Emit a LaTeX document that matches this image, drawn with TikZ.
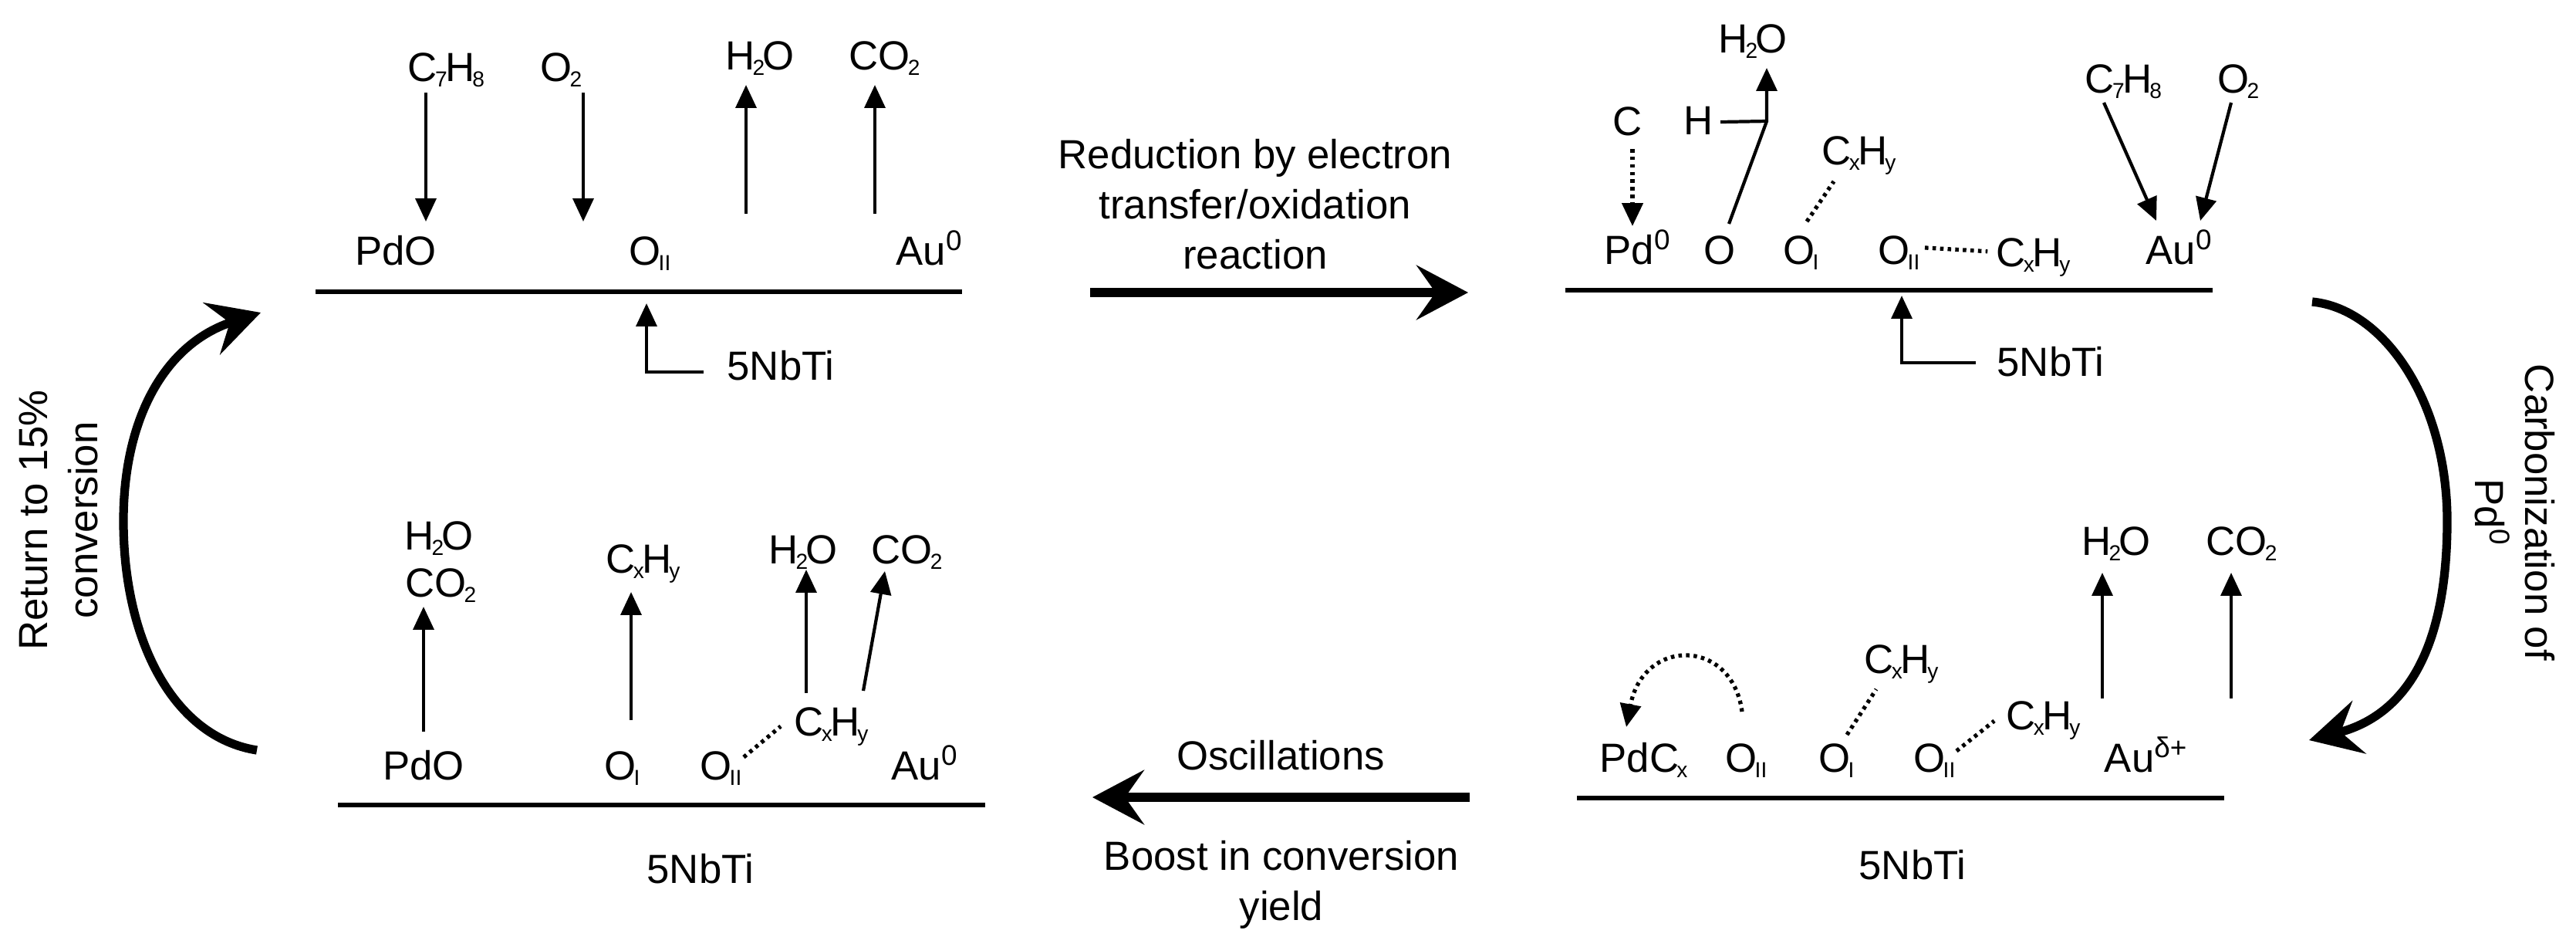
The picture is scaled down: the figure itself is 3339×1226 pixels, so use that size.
\documentclass[tikz,border=0pt]{standalone}
\usepackage{fontspec}
\usepackage{xcolor}
\usepackage{tikz}
\usetikzlibrary{arrows.meta}
\setmainfont{Liberation Sans}
\newcommand{\chemlo}[1]{\kern-0.8pt\raisebox{-2.2pt}{\fontsize{8}{8}\selectfont #1}\kern-0.8pt}
\tikzset{
chem/.style={anchor=base,inner sep=0pt,font=\fontsize{15}{18.5}\selectfont},
note/.style={inner sep=0pt,align=center,font=\fontsize{15}{18.5}\selectfont},
surf/.style={line width=1.6pt},
rxn/.style={line width=1.2pt,-{Triangle[length=8.5pt,width=7.6pt]}},
bond/.style={line width=1.2pt},
dotbond/.style={line width=1.5pt,dash pattern=on 1.3pt off 1.5pt},
dotrxn/.style={dotbond,-{Triangle[length=8.5pt,width=7.6pt]}},
bigrxn/.style={line width=3.2pt,-{Stealth[length=19pt,width=20pt,inset=7pt]}}
}
\begin{document}
\begin{tikzpicture}[x=0.01cm,y=-0.01cm]
\useasboundingbox (0,0) rectangle (3339,1226);
% top left
\coordinate (sa1) at (409,378); \coordinate (sa2) at (1247,378);
\draw[surf] (sa1) -- (sa2);
\node[chem] (c7h8a) at (577,105) {C\chemlo{7}H\chemlo{8}};
\node[chem] (o2a) at (726,105) {O\chemlo{2}};
\node[chem] (h2oa) at (985,90) {H\chemlo{2}O};
\node[chem] (co2a) at (1145,90) {CO\chemlo{2}};
\node[chem] (pdoa) at (513,343) {PdO};
\node[chem] (oiia) at (841,343) {O\chemlo{II}};
\node[chem] (aua) at (1205,343) {Au\textsuperscript{0}};
\node[chem] (nbtia) at (1012,492) {5NbTi};
\coordinate (a1) at (552,120); \coordinate (a2) at (552,287);
\coordinate (a3) at (756,120); \coordinate (a4) at (756,287);
\coordinate (a5) at (967,277); \coordinate (a6) at (967,110);
\coordinate (a7) at (1134,277); \coordinate (a8) at (1134,110);
\coordinate (a9) at (912,482); \coordinate (a10) at (838,482); \coordinate (a11) at (838,393);
\draw[rxn] (a1) -- (a2);
\draw[rxn] (a3) -- (a4);
\draw[rxn] (a5) -- (a6);
\draw[rxn] (a7) -- (a8);
\draw[rxn] (a9) -- (a10) -- (a11);
% top right
\coordinate (sb1) at (2029,376); \coordinate (sb2) at (2868,376);
\draw[surf] (sb1) -- (sb2);
\node[chem] (h2ob) at (2272,68) {H\chemlo{2}O};
\node[chem] (hb) at (2202,174) {H};
\node[chem] (cb) at (2110,175) {C};
\node[chem] (cxhyb) at (2408,213) {C\chemlo{x}H\chemlo{y}};
\node[chem] (c7h8b) at (2751,120) {C\chemlo{7}H\chemlo{8}};
\node[chem] (o2b) at (2900,120) {O\chemlo{2}};
\node[chem] (pdb) at (2123,342) {Pd\textsuperscript{0}};
\node[chem] (ob) at (2229,342) {O};
\node[chem] (oib) at (2333,342) {O\chemlo{I}};
\node[chem] (oiib) at (2460,342) {O\chemlo{II}};
\node[chem] (cxhyc) at (2634,345) {C\chemlo{x}H\chemlo{y}};
\node[chem] (aub) at (2825,342) {Au\textsuperscript{0}};
\node[chem] (nbtib) at (2658,487) {5NbTi};
\coordinate (b1) at (2241,290); \coordinate (b2) at (2290,157); \coordinate (b3) at (2290,88);
\coordinate (b4) at (2230,158);
\coordinate (b5) at (2116,193); \coordinate (b6) at (2116,293);
\coordinate (b7) at (2342,287); \coordinate (b8) at (2377,235);
\coordinate (b9) at (2727,133); \coordinate (b10) at (2795,286);
\coordinate (b11) at (2892,133); \coordinate (b12) at (2852,286);
\coordinate (b13) at (2561,470); \coordinate (b14) at (2465,470); \coordinate (b15) at (2465,383);
\draw[rxn] (b1) -- (b2) -- (b3);
\draw[bond] (b4) -- (b2);
\draw[dotrxn] (b5) -- (b6);
\draw[dotbond] (b7) -- (b8);
\draw[dotbond,shorten <=2.5pt,shorten >=3pt] ([yshift=2pt]oiib.east) -- ([yshift=2pt]cxhyc.west);
\draw[rxn] (b9) -- (b10);
\draw[rxn] (b11) -- (b12);
\draw[rxn] (b13) -- (b14) -- (b15);
% bottom right
\coordinate (sc1) at (2044,1034); \coordinate (sc2) at (2883,1034);
\draw[surf] (sc1) -- (sc2);
\node[chem] (h2oc) at (2743,719) {H\chemlo{2}O};
\node[chem] (co2c) at (2904,719) {CO\chemlo{2}};
\node[chem] (cxhyd) at (2463,872) {C\chemlo{x}H\chemlo{y}};
\node[chem] (cxhye) at (2647,945) {C\chemlo{x}H\chemlo{y}};
\node[chem] (pdcx) at (2129,1000) {PdC\chemlo{x}};
\node[chem] (oiic) at (2262,1000) {O\chemlo{II}};
\node[chem] (oic) at (2379,1000) {O\chemlo{I}};
\node[chem] (oiid) at (2506,1000) {O\chemlo{II}};
\node[chem] (auc) at (2782,1000) {Au\textsuperscript{δ+}};
\node[chem] (nbtic) at (2479,1139) {5NbTi};
\coordinate (c1) at (2725,905); \coordinate (c2) at (2725,742);
\coordinate (c3) at (2892,905); \coordinate (c4) at (2892,742);
\coordinate (c5) at (2394,952); \coordinate (c6) at (2432,893);
\coordinate (c7) at (2536,973); \coordinate (c8) at (2585,934);
\coordinate (c9) at (2258,922); \coordinate (c10) at (2108,942);
\draw[rxn] (c1) -- (c2);
\draw[rxn] (c3) -- (c4);
\draw[dotbond] (c5) -- (c6);
\draw[dotbond] (c7) -- (c8);
\draw[dotrxn] (c9) .. controls (2245,826) and (2130,826) .. (c10);
% bottom left
\coordinate (sd1) at (438,1043); \coordinate (sd2) at (1277,1043);
\draw[surf] (sd1) -- (sd2);
\node[chem] (h2od) at (569,712) {H\chemlo{2}O};
\node[chem] (co2d) at (570,773) {CO\chemlo{2}};
\node[chem] (cxhyf) at (832,742) {C\chemlo{x}H\chemlo{y}};
\node[chem] (h2oe) at (1041,730) {H\chemlo{2}O};
\node[chem] (co2e) at (1174,730) {CO\chemlo{2}};
\node[chem] (cxhyg) at (1076,953) {C\chemlo{x}H\chemlo{y}};
\node[chem] (pdod) at (549,1010) {PdO};
\node[chem] (oid) at (805,1010) {O\chemlo{I}};
\node[chem] (oiie) at (933,1010) {O\chemlo{II}};
\node[chem] (aud) at (1199,1010) {Au\textsuperscript{0}};
\node[chem] (nbtid) at (908,1144) {5NbTi};
\coordinate (d1) at (549,948); \coordinate (d2) at (549,786);
\coordinate (d3) at (818,933); \coordinate (d4) at (818,767);
\coordinate (d5) at (1045,898); \coordinate (d6) at (1045,738);
\coordinate (d7) at (1119,895); \coordinate (d8) at (1147,740);
\coordinate (d9) at (964,981); \coordinate (d10) at (1012,941);
\draw[rxn] (d1) -- (d2);
\draw[rxn] (d3) -- (d4);
\draw[rxn] (d5) -- (d6);
\draw[rxn] (d7) -- (d8);
\draw[dotbond] (d9) -- (d10);
% cycle arrows
\coordinate (e1) at (1413,379); \coordinate (e2) at (1903,379);
\coordinate (e3) at (1905,1033); \coordinate (e4) at (1416,1033);
\coordinate (e5) at (2997,391); \coordinate (e6) at (2993,959);
\coordinate (e7) at (333,972); \coordinate (e8) at (338,405);
\draw[bigrxn] (e1) -- (e2);
\draw[bigrxn] (e3) -- (e4);
\draw[bigrxn] (e5) .. controls (3090,400) and (3172,520) .. (3172,675) .. controls (3172,830) and (3125,925) .. (e6);
\draw[bigrxn] (e7) .. controls (225,955) and (160,830) .. (160,675) .. controls (160,540) and (215,445) .. (e8);
\node[note] (reduction) at (1627,265) {Reduction by electron\\transfer/oxidation\\reaction};
\node[chem] (oscillations) at (1660,997) {Oscillations};
\node[note] (boost) at (1661,1146) {Boost in conversion\\yield};
\node[note,rotate=-90] (carbon) at (3260,664) {Carbonization of\\Pd\textsuperscript{0}};
\node[note,rotate=90] (return) at (76,674) {Return to 15\%\\conversion};
\end{tikzpicture}
\end{document}
